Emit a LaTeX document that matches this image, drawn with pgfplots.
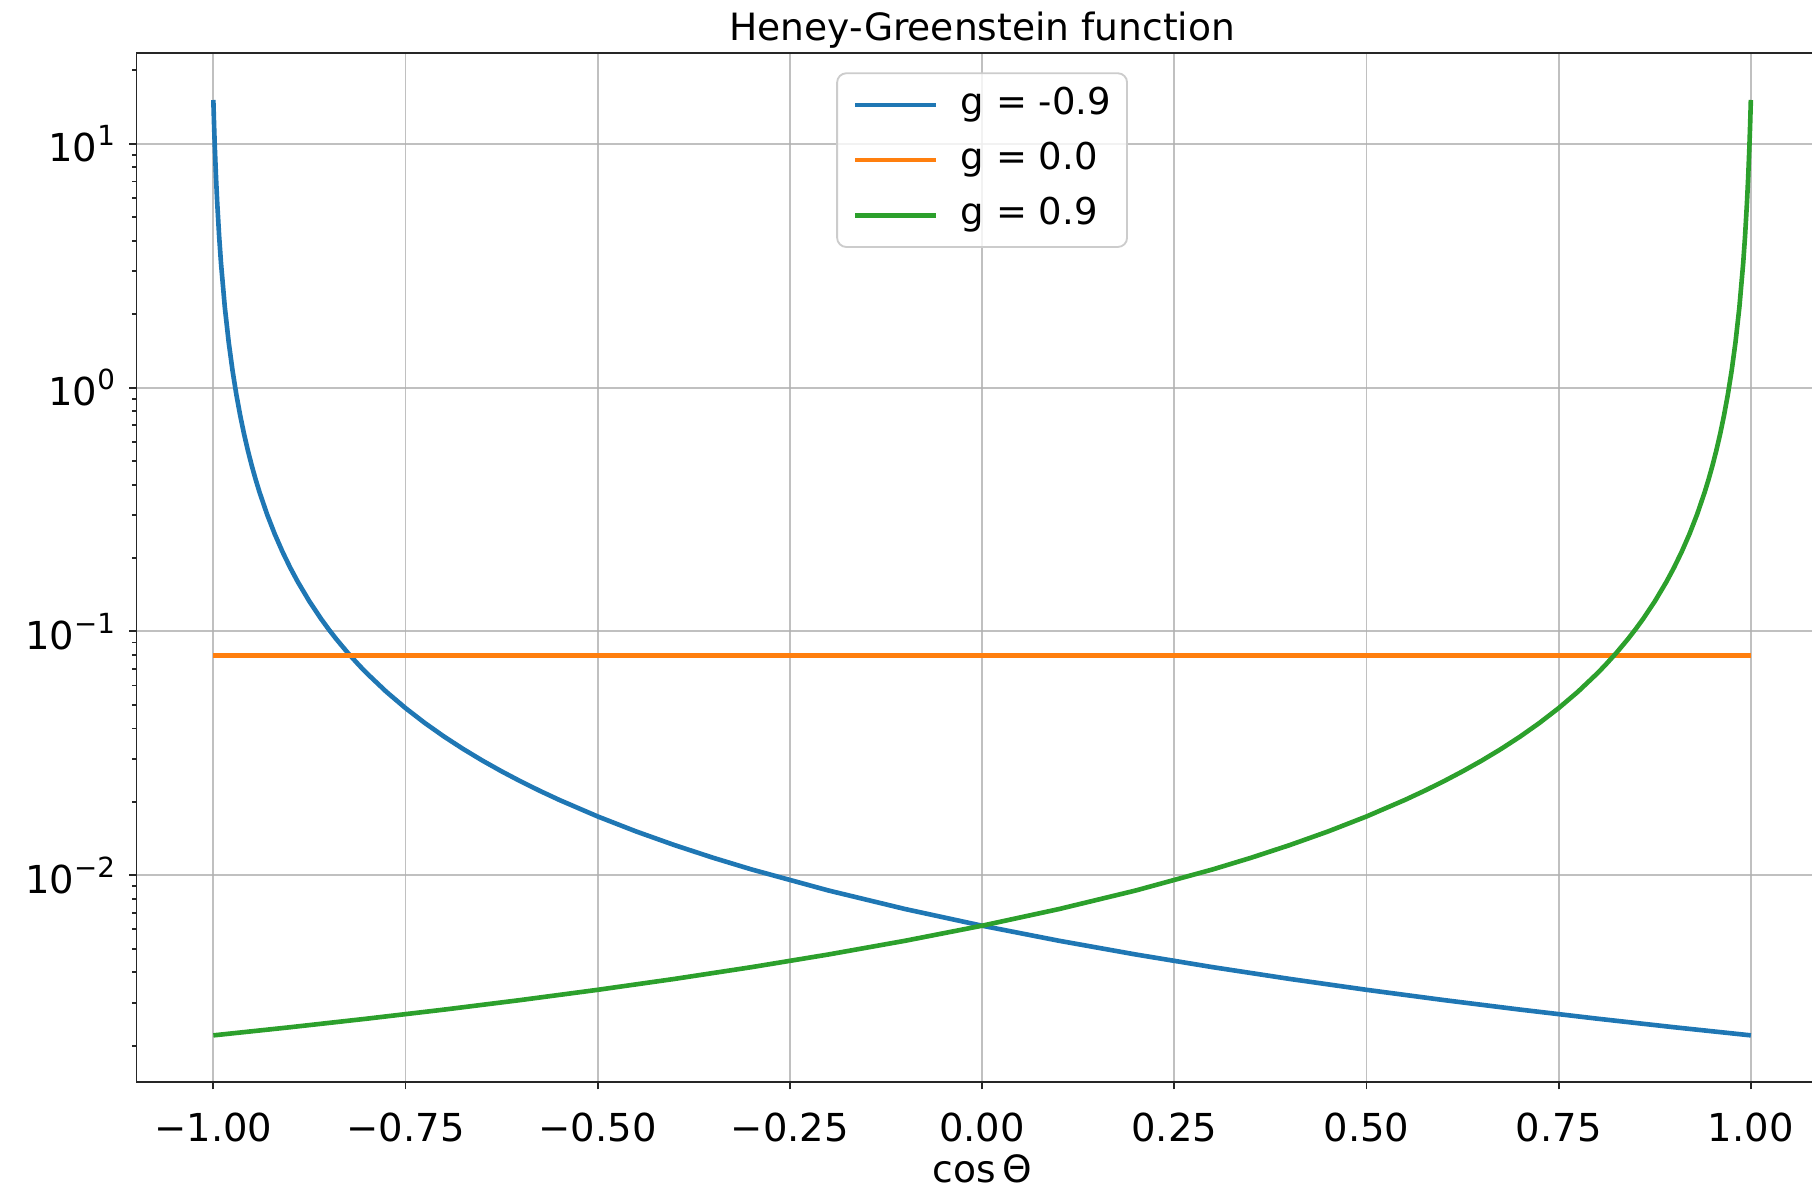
\documentclass[border=0pt]{standalone}
\usepackage{pgfplots}
\pgfplotsset{compat=1.18}
\usepackage{fontspec}
\setmainfont{DejaVu Sans}
\definecolor{tabblue}{HTML}{1F77B4}
\definecolor{taborange}{HTML}{FF7F0E}
\definecolor{tabgreen}{HTML}{2CA02C}
\definecolor{gridgray}{HTML}{B0B0B0}
\definecolor{legframe}{HTML}{CCCCCC}
\newcommand{\supx}[1]{\raisebox{0.42em}{\fontsize{9}{10}\selectfont #1}}

\pgfplotstableread{
x y
-1 0.002204
-0.9 0.002380
-0.8 0.002581
-0.7 0.002811
-0.6 0.003078
-0.5 0.003389
-0.4 0.003757
-0.3 0.004197
-0.2 0.004730
-0.1 0.005386
0 0.006209
0.1 0.007266
0.2 0.008660
0.3 0.010565
0.35 0.011796
0.4 0.013287
0.45 0.015120
0.5 0.017418
0.55 0.020363
0.575 0.022162
0.6 0.024242
0.625 0.026670
0.65 0.029531
0.675 0.032944
0.7 0.037069
0.725 0.042132
0.75 0.048463
0.775 0.056556
0.8 0.067182
0.81 0.072400
0.825 0.081606
0.84 0.092945
0.85 0.10205
0.86 0.11275
0.875 0.13272
0.89 0.15939
0.9 0.18257
0.91 0.21196
0.92 0.25019
0.93 0.30147
0.94 0.37302
0.945 0.42016
0.95 0.47813
0.955 0.55080
0.96 0.64393
0.965 0.76658
0.97 0.93386
0.975 1.17219
0.98 1.5326
0.985 2.1245
0.99 3.2271
0.9925 4.1971
0.995 5.7732
0.9965 7.2658
0.998 9.533
0.999 11.796
1 15.120
}\greentable

\pgfplotstableread{
x y
1 0.002204
0.9 0.002380
0.8 0.002581
0.7 0.002811
0.6 0.003078
0.5 0.003389
0.4 0.003757
0.3 0.004197
0.2 0.004730
0.1 0.005386
0 0.006209
-0.1 0.007266
-0.2 0.008660
-0.3 0.010565
-0.35 0.011796
-0.4 0.013287
-0.45 0.015120
-0.5 0.017418
-0.55 0.020363
-0.575 0.022162
-0.6 0.024242
-0.625 0.026670
-0.65 0.029531
-0.675 0.032944
-0.7 0.037069
-0.725 0.042132
-0.75 0.048463
-0.775 0.056556
-0.8 0.067182
-0.81 0.072400
-0.825 0.081606
-0.84 0.092945
-0.85 0.10205
-0.86 0.11275
-0.875 0.13272
-0.89 0.15939
-0.9 0.18257
-0.91 0.21196
-0.92 0.25019
-0.93 0.30147
-0.94 0.37302
-0.945 0.42016
-0.95 0.47813
-0.955 0.55080
-0.96 0.64393
-0.965 0.76658
-0.97 0.93386
-0.975 1.17219
-0.98 1.5326
-0.985 2.1245
-0.99 3.2271
-0.9925 4.1971
-0.995 5.7732
-0.9965 7.2658
-0.998 9.533
-0.999 11.796
-1 15.120
}\bluetable

\pgfplotstableread{
x y
-1 0.0795775
1 0.0795775
}\orangetable

\begin{document}
\begin{tikzpicture}
\begin{axis}[
  scale only axis,
  width=549pt, height=334pt,
  ymode=log,
  xmin=-1.1, xmax=1.1,
  ymin=0.001416, ymax=23.5,
  xtick={-1,-0.75,-0.5,-0.25,0,0.25,0.5,0.75,1},
  xticklabels={−1.00,−0.75,−0.50,−0.25,0.00,0.25,0.50,0.75,1.00},
  ytick={0.01,0.1,1,10},
  yticklabels={10\supx{−2},10\supx{−1},10\supx{0},10\supx{1}},
  minor ytick={0.002,0.003,0.004,0.005,0.006,0.007,0.008,0.009,
               0.02,0.03,0.04,0.05,0.06,0.07,0.08,0.09,
               0.2,0.3,0.4,0.5,0.6,0.7,0.8,0.9,
               2,3,4,5,6,7,8,9,20},
  xtick pos=bottom, ytick pos=left,
  tick align=outside,
  major tick length=2.3pt, minor tick length=1.3pt,
  every tick/.style={black!85, line width=0.6pt},
  grid=major,
  major grid style={gridgray, line width=0.6pt, opacity=0.8},
  axis line style={black!85, line width=0.6pt},
  xticklabel style={font=\fontsize{12.5}{14}\selectfont, inner sep=0pt, anchor=north, yshift=-7.5pt},
  yticklabel style={font=\fontsize{12.5}{14}\selectfont, inner sep=0pt, anchor=east, xshift=-4.5pt},
  title={Heney-Greenstein function},
  title style={font=\fontsize{12.2}{14}\selectfont, at={(0.5,1)}, anchor=base, inner sep=0pt, yshift=-1.8pt},
  xlabel={cos\,Θ},
  xlabel style={font=\fontsize{12.2}{14}\selectfont, at={(axis description cs:0.5,0)}, anchor=north, inner sep=0pt, yshift=-23.2pt},
  legend style={at={(0.5,0.9815)}, anchor=north, draw=legframe, line width=0.6pt,
    rounded corners=3pt, fill=white, fill opacity=0.8, text opacity=1,
    font=\fontsize{12}{14}\selectfont, inner xsep=5.2pt, inner ysep=4.3pt,
    row sep=5.9pt,
    nodes={inner sep=0pt, text height=9pt, text depth=3pt, anchor=west},
    /tikz/every odd column/.append style={column sep=7.5pt}},
  legend cell align=left,
  legend image code/.code={\draw[#1] (0pt,0pt) -- (26pt,0pt);},
]
\addplot[tabblue, line width=1.5pt] table[x=x,y=y] {\bluetable};
\addlegendentry{g = -0.9}
\addplot[taborange, line width=1.5pt] table[x=x,y=y] {\orangetable};
\addlegendentry{g = 0.0}
\addplot[tabgreen, line width=1.5pt] table[x=x,y=y] {\greentable};
\addlegendentry{g = 0.9}
\end{axis}
\pgfresetboundingbox
\path[use as bounding box] ([xshift=-44.3pt,yshift=-36.5pt]current axis.south west) rectangle ([xshift=-5.1pt,yshift=17.3pt]current axis.north east);
\end{tikzpicture}
\end{document}
